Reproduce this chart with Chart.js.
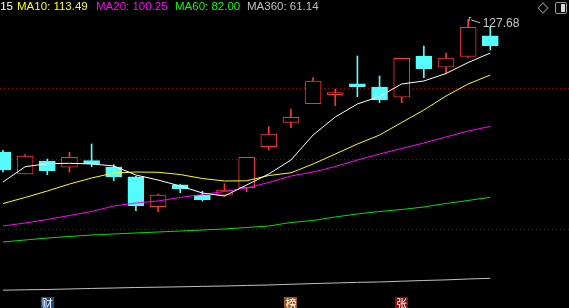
<!DOCTYPE html>
<html><head><meta charset="utf-8">
<script src="https://cdn.jsdelivr.net/npm/chart.js@4.4.1/dist/chart.umd.min.js"></script>
<style>
html,body{margin:0;padding:0;background:#000;overflow:hidden;}
#wrap{position:relative;width:569px;height:308px;background:#000;overflow:hidden;}
canvas{position:absolute;left:0;top:0;}
.lg{position:absolute;top:0;font-family:"Liberation Sans",Arial,sans-serif;font-size:11.5px;line-height:13px;white-space:nowrap;}
#peak{position:absolute;font-family:"Liberation Sans",Arial,sans-serif;font-size:12px;line-height:14px;color:#c8c8c8;white-space:nowrap;}
.ev{position:absolute;width:13px;height:14px;font-family:"Noto Sans CJK SC",sans-serif;font-size:11px;line-height:13px;color:#fff;text-align:center;}
#dia{position:absolute;left:539px;top:4px;width:6px;height:6px;border:1px solid #808080;transform:rotate(45deg);}
#sq{position:absolute;left:555px;top:2px;width:10px;height:10px;border:1px solid #9a9a9a;border-radius:2px;}
#sq div{position:absolute;left:5px;top:1px;width:4px;height:8px;background:#d8d8d8;}
</style></head><body>
<div id="wrap">
<canvas id="c" width="569" height="308"></canvas>
<span class="lg" style="right:556px;color:#ffffff">MA5: 119.15</span>
<span class="lg" style="left:17px;color:#ffff00">MA10: 113.49</span>
<span class="lg" style="left:96px;color:#ff00ff">MA20: 100.25</span>
<span class="lg" style="left:175px;color:#00ff00">MA60: 82.00</span>
<span class="lg" style="left:247px;color:#c0c0c0">MA360: 61.14</span>
<span id="peak">127.68</span>
<div id="dia"></div>
<div id="sq"><div></div></div>
</div>
<script>
// ---- data ----
const opens  = [93.67, 88.00, 91.35, 89.73, 91.43, 89.80, 87.30, 79.58, 85.24, 82.52, 82.52, 84.47, 95.03, 101.31, 106.10, 108.42, 111.25, 110.40, 107.76, 118.39, 115.48, 118.26, 123.61];
const highs  = [94.10, 92.97, 91.86, 93.59, 95.73, 90.39, 87.40, 82.85, 85.30, 83.55, 85.50, 92.30, 100.18, 104.74, 112.80, 109.89, 118.39, 113.24, 117.79, 120.96, 119.16, 127.68, 125.78];
const lows   = [88.52, 88.00, 87.82, 88.44, 89.88, 86.27, 78.55, 78.29, 83.18, 81.05, 82.33, 83.44, 94.18, 99.92, 106.10, 105.59, 107.90, 106.36, 106.36, 112.80, 113.93, 118.00, 119.93];
const closes = [89.03, 92.64, 88.85, 92.30, 90.58, 87.23, 79.84, 82.59, 84.14, 81.38, 83.88, 92.30, 98.30, 102.60, 111.95, 108.94, 110.48, 107.13, 117.79, 115.12, 117.87, 125.78, 121.04];
const ma5   = [85.94, 89.88, 90.65, 90.76, 90.58, 90.06, 87.74, 86.45, 84.91, 83.11, 82.33, 85.17, 88.00, 91.61, 98.04, 102.68, 106.03, 107.96, 111.18, 111.95, 113.88, 116.71, 119.15];
const ma10  = [80.40, 81.95, 83.62, 85.42, 86.97, 88.26, 88.51, 88.44, 87.87, 86.84, 86.20, 86.25, 87.61, 88.31, 90.57, 93.15, 95.72, 98.04, 101.26, 104.48, 108.08, 111.18, 113.49];
const ma20  = [74.61, 75.38, 76.28, 77.31, 78.34, 79.76, 80.53, 81.05, 81.95, 82.72, 83.49, 84.39, 85.81, 87.48, 88.51, 89.93, 91.60, 93.15, 94.57, 95.98, 97.53, 99.07, 100.25];
const ma60  = [70.49, 71.00, 71.51, 71.91, 72.29, 72.55, 72.81, 73.06, 73.32, 73.58, 73.84, 74.22, 74.61, 75.51, 76.03, 76.93, 77.70, 78.34, 78.86, 79.50, 80.40, 81.18, 82.00];
const ma360 = [58.08, 58.18, 58.26, 58.39, 58.52, 58.64, 58.77, 58.85, 58.95, 59.06, 59.16, 59.29, 59.42, 59.60, 59.78, 59.93, 60.09, 60.19, 60.39, 60.58, 60.73, 60.96, 61.14];
const gridLevels = [73.76, 91.79, 110.07];
const peakIndex = 21, peakValue = 127.68;
const eventIdx   = [2, 13, 18];
const eventText  = ["财", "榜", "张"];
const eventColor = ["#1d4a88", "#9a561c", "#8c0c0c"];

const UP = '#ff3232', DOWN = '#54fcfc';
const isUp = i => closes[i] >= opens[i];
const pts = arr => arr.map((v, i) => ({x: i, y: v}));

const bodies = opens.map((o, i) => ({x: i, y: [o, closes[i]]}));
const wicks = lows.map((l, i) => ({x: i, y: [l, highs[i]]}));

const lineDs = (data, color) => ({
  type: 'line', data: pts(data), borderColor: color, borderWidth: 1,
  pointRadius: 0, tension: 0, fill: false
});

// event markers
const wrap = document.getElementById('wrap');
const evEls = eventIdx.map((idx, k) => {
  const d = document.createElement('div');
  d.className = 'ev';
  d.textContent = eventText[k];
  d.style.background = eventColor[k];
  wrap.appendChild(d);
  return d;
});

const placer = {
  id: 'placer',
  afterDraw(chart) {
    const xs = chart.scales.x, ys = chart.scales.y, ctx = chart.ctx;
    const px = xs.getPixelForValue(peakIndex), py = ys.getPixelForValue(peakValue);
    ctx.save();
    ctx.strokeStyle = '#c0c0c0';
    ctx.lineWidth = 1;
    ctx.beginPath();
    ctx.moveTo(px + 1, py - 2.5); ctx.lineTo(px + 1, py + 1);
    ctx.moveTo(px + 1, py - 2.5); ctx.lineTo(px + 3, py - 2.5);
    ctx.moveTo(px + 3, py); ctx.lineTo(px + 12, py + 3);
    ctx.stroke();
    ctx.restore();
    const lab = document.getElementById('peak');
    lab.style.left = (px + 14.5) + 'px';
    lab.style.top = (py - 3.5) + 'px';
    evEls.forEach((el, k) => {
      const ex = xs.getPixelForValue(eventIdx[k]);
      el.style.left = (ex - 6.5) + 'px';
      el.style.top = '297px';
    });
  }
};

new Chart(document.getElementById('c'), {
  type: 'bar',
  data: {
    datasets: [
      lineDs(ma5, '#ffffff'),
      lineDs(ma10, '#ffff00'),
      lineDs(ma20, '#ff00ff'),
      lineDs(ma60, '#00e000'),
      lineDs(ma360, '#c0c0c0'),
      {
        type: 'bar', data: bodies, grouped: false, barThickness: 16,
        backgroundColor: c => isUp(c.dataIndex) ? '#000000' : DOWN,
        borderColor: c => isUp(c.dataIndex) ? UP : DOWN,
        borderWidth: 1, borderSkipped: false
      },
      {
        type: 'bar', data: wicks, grouped: false, barThickness: 1,
        backgroundColor: c => isUp(c.dataIndex) ? UP : DOWN,
        borderWidth: 0
      }
    ]
  },
  options: {
    responsive: false,
    animation: false,
    devicePixelRatio: 1,
    layout: {padding: 0},
    plugins: {legend: {display: false}, tooltip: {enabled: false}, title: {display: false}},
    scales: {
      x: {type: 'linear', display: false, offset: false, min: -3 / 22.15, max: 566 / 22.15,
          grid: {offset: false}},
      y: {
        type: 'linear', min: 53.49, max: 132.81,
        afterBuildTicks: s => { s.ticks = gridLevels.map(v => ({value: v})); },
        afterFit: s => { s.width = 0; },
        ticks: {display: false},
        border: {display: false, dash: [1, 3]},
        grid: {color: '#a00000', lineWidth: 1, drawTicks: false}
      }
    }
  },
  plugins: [placer]
});
</script>
</body></html>
